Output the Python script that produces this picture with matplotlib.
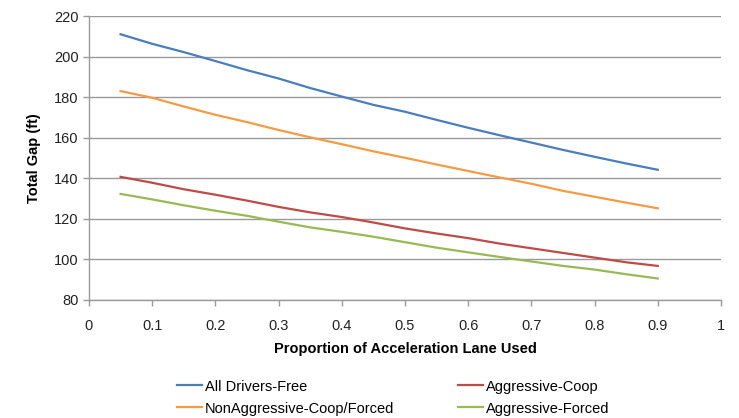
import matplotlib
matplotlib.use("Agg")
import matplotlib.pyplot as plt
from matplotlib import font_manager

# Proportion of acceleration lane used
proportion = [0.05, 0.10, 0.15, 0.20, 0.25, 0.30, 0.35, 0.40, 0.45,
              0.50, 0.55, 0.60, 0.65, 0.70, 0.75, 0.80, 0.85, 0.90]

# Total gap (ft) for each driver group
all_drivers_free = [211.0, 206.3, 202.2, 197.8, 193.3, 189.2, 184.5, 180.3, 176.2,
                    172.8, 168.8, 164.9, 161.2, 157.6, 154.0, 150.6, 147.3, 144.2]
nonaggressive_coop_forced = [183.0, 179.7, 175.4, 171.3, 167.7, 163.8, 160.2, 156.8, 153.3,
                             150.1, 146.8, 143.6, 140.4, 137.3, 133.8, 130.9, 128.0, 125.2]
aggressive_coop = [140.7, 137.8, 134.6, 131.9, 129.0, 125.9, 123.2, 120.9, 118.2,
                   115.3, 112.8, 110.5, 107.8, 105.5, 103.2, 100.9, 98.6, 96.8]
aggressive_forced = [132.3, 129.6, 126.7, 124.0, 121.5, 118.6, 115.8, 113.6, 111.2,
                     108.5, 105.8, 103.5, 101.2, 99.0, 96.8, 95.0, 92.7, 90.6]

series_names = ["All Drivers-Free", "Aggressive-Coop",
                "NonAggressive-Coop/Forced", "Aggressive-Forced"]
x_ticks = [0, 0.1, 0.2, 0.3, 0.4, 0.5, 0.6, 0.7, 0.8, 0.9, 1]
x_tick_labels = ["0", "0.1", "0.2", "0.3", "0.4", "0.5", "0.6", "0.7", "0.8", "0.9", "1"]
y_ticks = [80, 100, 120, 140, 160, 180, 200, 220]

installed = {f.name for f in font_manager.fontManager.ttflist}
base = "Liberation Sans Narrow" if "Liberation Sans Narrow" in installed else "Liberation Sans"
plt.rcParams["font.family"] = [base, "DejaVu Sans"]

fig = plt.figure(figsize=(7.39, 4.18), dpi=100)
ax = fig.add_axes([0.1204, 0.2823, 0.8552, 0.6794])

colors = {"blue": "#4a7ebb", "red": "#be4b48", "orange": "#f59a45", "green": "#98b954"}
l1, = ax.plot(proportion, all_drivers_free, color=colors["blue"], lw=1.6)
l2, = ax.plot(proportion, aggressive_coop, color=colors["red"], lw=1.6)
l3, = ax.plot(proportion, nonaggressive_coop_forced, color=colors["orange"], lw=1.6)
l4, = ax.plot(proportion, aggressive_forced, color=colors["green"], lw=1.6)

ax.set_xlim(0, 1)
ax.set_ylim(80, 220)
ax.set_xticks(x_ticks)
ax.set_xticklabels(x_tick_labels)
ax.set_yticks(y_ticks)

ax.grid(axis="y", color="#9a9a9a", lw=1.0)
ax.set_axisbelow(True)
for side in ("top", "right"):
    ax.spines[side].set_visible(False)
for side in ("left", "bottom"):
    ax.spines[side].set_color("#9a9a9a")
    ax.spines[side].set_linewidth(1.0)
ax.tick_params(axis="both", colors="#9a9a9a", labelcolor="#222222",
               labelsize=10.5, length=4, width=1.0)
ax.tick_params(axis="x", pad=10)

ax.set_xlabel("Proportion of Acceleration Lane Used", fontsize=10.5,
              fontweight="bold", labelpad=6)
ax.set_ylabel("Total Gap (ft)", fontsize=10.5, fontweight="bold", labelpad=9)

fig.legend([l1, l3, l2, l4],
           ["All Drivers-Free", "NonAggressive-Coop/Forced",
            "Aggressive-Coop", "Aggressive-Forced"],
           ncol=2, loc="center", bbox_to_anchor=(0.532, 0.049), frameon=False,
           fontsize=10.5, handlelength=1.7, handletextpad=0.2,
           columnspacing=4.4, labelspacing=0.55)

fig.savefig("out.png", dpi=100)
